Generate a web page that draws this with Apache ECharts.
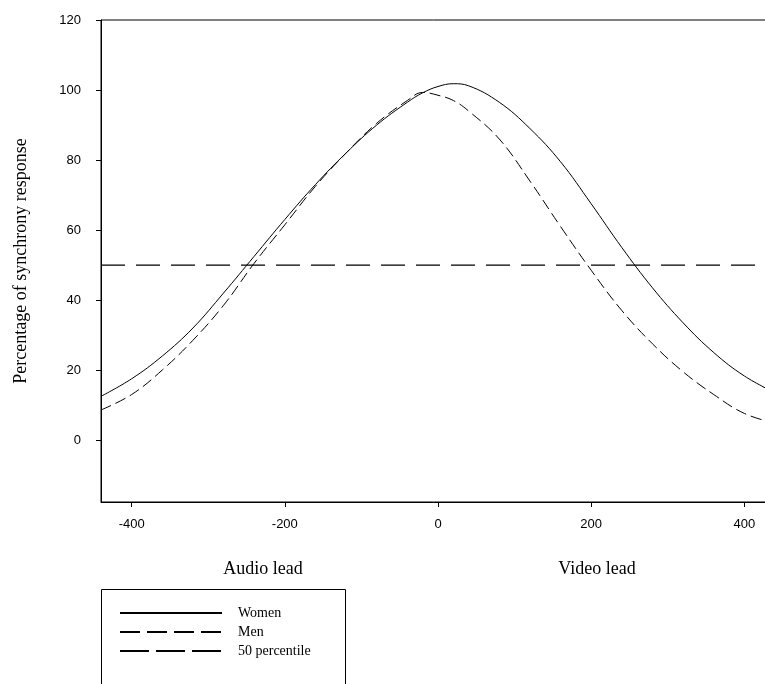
<!DOCTYPE html>
<html>
<head>
<meta charset="utf-8">
<script src="https://cdn.jsdelivr.net/npm/echarts@6/dist/echarts.min.js"></script>
<style>
  html, body { margin: 0; padding: 0; background: #fff; }
  #chart { width: 765px; height: 684px; }
</style>
</head>
<body>
<div id="chart"></div>
<script>
'use strict';

// x positions (ms)
var lags = [-440, -400, -360, -320, -280, -240, -200, -160, -120, -80, -40, -20, 0, 20, 40, 80, 120, 160, 200, 240, 280, 320, 360, 400, 440];
var women = [12.5, 17.5, 24, 32, 42, 52.5, 63, 73, 82, 90, 96.5, 99.2, 101, 101.8, 101.2, 96.5, 89, 79.5, 67.5, 55, 43.5, 33.5, 25, 18.3, 13.5];
var men = [8.6, 13, 20, 28.5, 38.5, 50.5, 61.5, 72.5, 82, 90.5, 97, 99.3, 98.5, 97, 94, 86, 74, 61, 48.5, 37, 27.5, 19.5, 13, 7.6, 4.8];
var percentile = [50, 50];
var percentileX = [-440, 440];
var xTicks = [-400, -200, 0, 200, 400];
var yTicks = [0, 20, 40, 60, 80, 100, 120];

function pairs(xs, ys) {
  var out = [];
  for (var i = 0; i < xs.length; i++) out.push([xs[i], ys[i]]);
  return out;
}

var myChart = echarts.init(document.getElementById('chart'));

var sans = 'Liberation Sans';
var serif = 'Liberation Serif';

var option = {
  animation: false,
  grid: {
    left: 101,
    top: 20,
    right: -10,   // runs past the right edge, like the cropped original
    bottom: 182,
    outerBoundsMode: 'none',
    show: true,
    borderColor: '#000',
    borderWidth: 1,
    backgroundColor: 'rgba(0,0,0,0)'
  },
  xAxis: {
    type: 'value',
    min: -440,
    max: 440,
    axisLine: { onZero: false, lineStyle: { color: '#000', width: 1 } },
    axisTick: { show: true, length: 5, customValues: xTicks, lineStyle: { color: '#000' } },
    axisLabel: { customValues: xTicks, margin: 16, color: '#000', fontFamily: sans, fontSize: 13 },
    splitLine: { show: false }
  },
  yAxis: {
    type: 'value',
    min: -17.7,
    max: 120,
    name: 'Percentage of synchrony response',
    nameLocation: 'middle',
    nameGap: 71,
    nameTextStyle: { fontFamily: serif, fontSize: 18, color: '#000' },
    axisLine: { onZero: false, lineStyle: { color: '#000', width: 1 } },
    axisTick: { show: true, length: 5, customValues: yTicks, lineStyle: { color: '#000' } },
    axisLabel: { customValues: yTicks, margin: 20, color: '#000', fontFamily: sans, fontSize: 13 },
    splitLine: { show: false }
  },
  legend: {
    orient: 'vertical',
    left: 114,
    top: 601,
    itemWidth: 102,
    itemHeight: 12,
    itemGap: 5,
    itemStyle: { color: 'rgba(0,0,0,0)', borderWidth: 0 },
    textStyle: { fontFamily: serif, fontSize: 14, color: '#000', padding: [0, 0, 0, 11] },
    data: [
      { name: 'Women', lineStyle: { type: 'solid' } },
      { name: 'Men', lineStyle: { type: [20, 7] } },
      { name: '50 percentile', lineStyle: { type: [29, 7] } }
    ]
  },
  graphic: [
    {
      type: 'rect',
      shape: { x: 101.5, y: 589.5, width: 244, height: 110 },
      style: { fill: 'none', stroke: '#000', lineWidth: 1 }
    },
    {
      type: 'text',
      x: 263, y: 569,
      style: { text: 'Audio lead', fontFamily: serif, fontSize: 18, fill: '#000', align: 'center', verticalAlign: 'middle' }
    },
    {
      type: 'text',
      x: 597, y: 569,
      style: { text: 'Video lead', fontFamily: serif, fontSize: 18, fill: '#000', align: 'center', verticalAlign: 'middle' }
    }
  ],
  series: [
    {
      name: 'Women',
      type: 'line',
      smooth: 0.4,
      symbol: 'none',
      lineStyle: { color: '#000', width: 1, type: 'solid' },
      itemStyle: { color: '#000' },
      data: pairs(lags, women)
    },
    {
      name: 'Men',
      type: 'line',
      smooth: 0.4,
      symbol: 'none',
      lineStyle: { color: '#000', width: 1, type: [11, 5] },
      itemStyle: { color: '#000' },
      data: pairs(lags, men)
    },
    {
      name: '50 percentile',
      type: 'line',
      symbol: 'none',
      lineStyle: { color: '#000', width: 1.3, type: [24, 11] },
      itemStyle: { color: '#000' },
      data: pairs(percentileX, percentile)
    }
  ]
};

myChart.setOption(option);
</script>
</body>
</html>
